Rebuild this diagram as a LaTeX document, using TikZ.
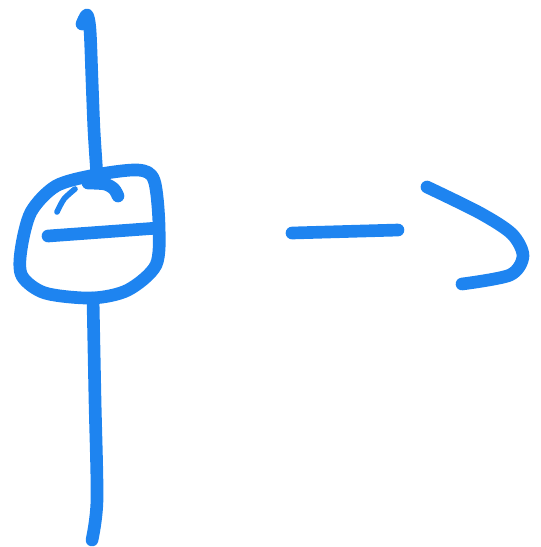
\documentclass[tikz,border=0pt]{standalone}
\usepackage{tikz}
\definecolor{inkblue}{RGB}{30,132,240}
\tikzset{
  ink/.style={draw=inkblue, line width=3.6pt, line cap=round, line join=round},
  thinink/.style={draw=inkblue, line width=1.6pt, line cap=round}
}

\begin{document}
\begin{tikzpicture}[x=0.01cm, y=-0.01cm]
    \useasboundingbox (0,0) rectangle (541,547);

    % wire above the box
    \draw[ink] plot[smooth] coordinates {(82,24) (87,15) (90,30) (92,80) (94,130) (97,176)};
    % the box itself
    \draw[ink] plot[smooth cycle] coordinates {(95,175) (138,170) (154,180) (159,225) (156,265) (128,290) (92,298) (45,293) (22,276) (21,250) (31,212) (56,186)};
    \draw[thinink] plot[smooth] coordinates {(57,212) (64,199) (75,189)};
    \draw[ink] plot[smooth] coordinates {(88,183) (105,184) (114,189) (118,196)};
    \draw[ink] (48,236) -- (158,228);
    % wire below the box
    \draw[ink] plot[smooth] coordinates {(93,298) (95,400) (97,500) (92,540)};

    % arrow
    \draw[ink] (292,233) -- (398,230);
    \draw[ink] plot[smooth] coordinates {(427,187) (480,213) (512,234) (523,256) (510,275) (462,284)};
\end{tikzpicture}
\end{document}
